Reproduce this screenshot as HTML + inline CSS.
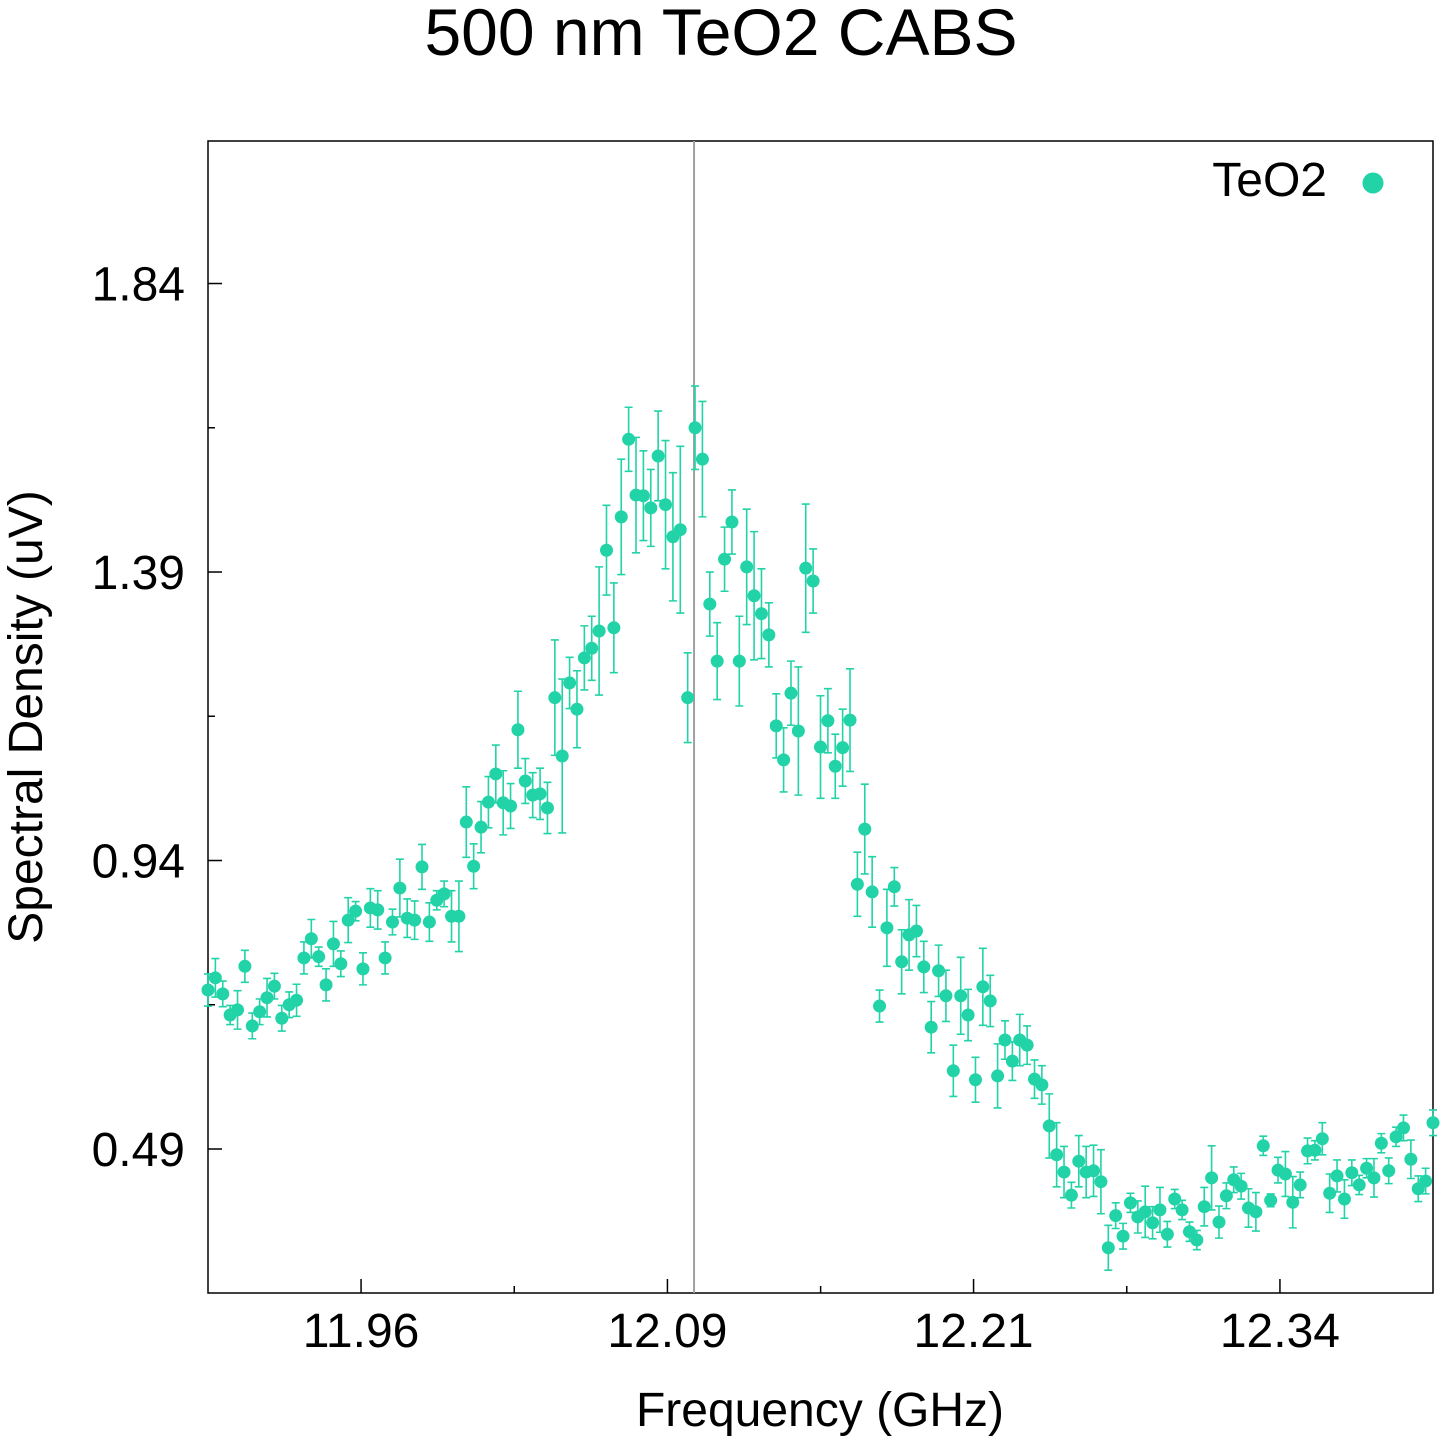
<!DOCTYPE html>
<html><head><meta charset="utf-8"><style>
html,body{margin:0;padding:0;background:#fff}
svg{display:block;font-family:"Liberation Sans",sans-serif}
</style></head><body>
<svg id="chart" width="1440" height="1440" viewBox="0 0 1440 1440" xmlns="http://www.w3.org/2000/svg">
<text x="721" y="55" font-size="66" text-anchor="middle">500 nm TeO2 CABS</text>
<g id="plot"></g>
<text x="820" y="1426" font-size="48" text-anchor="middle">Frequency (GHz)</text>
<text transform="translate(42,717) rotate(-90)" font-size="48" text-anchor="middle">Spectral Density (uV)</text>
<g>
<text x="1327" y="196" font-size="48" text-anchor="end">TeO2</text>
<circle cx="1373" cy="183" r="10.5" fill="#22d3a8"/>
</g>
</svg>
<script>
const values=[0.738,0.757,0.732,0.699,0.707,0.775,0.682,0.704,0.726,0.744,0.694,0.715,0.722,0.788,0.818,0.790,0.746,0.810,0.779,0.847,0.861,0.771,0.866,0.863,0.788,0.844,0.897,0.850,0.847,0.930,0.844,0.878,0.888,0.853,0.853,1.000,0.931,0.992,1.031,1.075,1.030,1.025,1.144,1.064,1.042,1.044,1.022,1.194,1.103,1.217,1.176,1.256,1.271,1.298,1.424,1.303,1.476,1.597,1.510,1.509,1.490,1.571,1.495,1.445,1.456,1.194,1.615,1.566,1.340,1.251,1.410,1.468,1.251,1.398,1.353,1.325,1.292,1.150,1.097,1.201,1.142,1.396,1.376,1.117,1.158,1.087,1.116,1.159,0.903,0.989,0.891,0.713,0.835,0.899,0.782,0.824,0.830,0.774,0.680,0.768,0.729,0.612,0.729,0.699,0.598,0.743,0.721,0.604,0.660,0.627,0.660,0.652,0.599,0.590,
0.526,0.481,0.454,0.418,0.471,0.454,0.456,0.439,0.336,0.386,0.354,0.406,0.384,0.392,0.375,0.395,0.357,0.412,0.395,0.361,0.348,0.400,0.445,0.376,0.417,0.442,0.432,0.398,0.392,0.495,0.410,0.457,0.451,0.407,0.434,0.487,0.488,0.506,0.421,0.448,0.412,0.453,0.434,0.460,0.445,0.499,0.456,0.509,0.523,0.474,0.428,0.440,0.531];
const errors=[0.025,0.03,0.02,0.015,0.03,0.025,0.02,0.02,0.03,0.02,0.02,0.02,0.025,0.025,0.03,0.015,0.025,0.035,0.02,0.035,0.015,0.025,0.03,0.03,0.025,0.02,0.045,0.03,0.03,0.035,0.03,0.015,0.02,0.04,0.055,
0.055,0.035,0.04,0.04,0.045,0.05,0.035,0.06,0.035,0.035,0.04,0.04,0.09,0.12,0.04,0.06,0.05,0.05,0.1,0.07,0.07,0.09,0.05,0.09,0.07,0.06,0.07,0.1,0.1,0.13,
0.07,0.065,0.09,0.05,0.06,0.05,0.05,0.07,0.09,0.1,0.07,0.05,0.05,0.05,0.05,0.1,0.1,0.05,0.08,0.05,0.05,0.06,0.08,
0.05,0.07,0.055,0.025,0.06,0.03,0.05,0.055,0.04,0.04,0.04,0.04,0.04,0.04,0.06,0.04,0.035,0.06,0.04,0.05,0.03,0.03,0.04,0.03,0.03,0.03,
0.05,0.05,0.04,0.02,0.04,0.04,0.04,0.05,0.035,0.02,0.02,0.015,0.025,0.04,0.025,0.035,0.02,0.015,0.015,0.015,0.015,0.03,0.05,0.025,0.02,0.02,0.02,0.03,0.03,0.015,0.01,0.02,0.035,0.04,0.02,0.02,0.015,0.025,0.03,0.025,0.03,0.02,0.015,0.015,0.03,0.015,0.02,0.015,0.02,0.03,0.02,0.02,0.02];
const freqStart=11.8967, freqEnd=12.4033;
const xTicks=[11.96,12.0867,12.2133,12.34];
const xTickLabels=["11.96","12.09","12.21","12.34"];
const yTicks=[0.49,0.94,1.39,1.84];
const yTickLabels=["0.49","0.94","1.39","1.84"];
const markerFreq=12.0977;

const L=208,R=1433,T=141,B=1293;
const xMin=11.8967,xMax=12.4033,yMin=0.2654,yMax=2.0623;
const X=f=>L+(f-xMin)/(xMax-xMin)*(R-L);
const Y=v=>B-(v-yMin)/(yMax-yMin)*(B-T);
const NS='http://www.w3.org/2000/svg';
const g=document.getElementById('plot');
function mk(t,a){const e=document.createElementNS(NS,t);for(const k in a)e.setAttribute(k,a[k]);g.appendChild(e);return e;}
let e;
e=mk('rect',{x:L,y:T,width:R-L,height:B-T,fill:'none',stroke:'#000','stroke-width':1.5});


const step=xTicks[1]-xTicks[0];
for(let k=-1;k<xTicks.length;k++){const f=xTicks[Math.max(k,0)]+(k<0?-step/2:step/2);const x=X(f);if(x>L&&x<R){
e=mk('line',{x1:x,y1:B,x2:x,y2:B-7,stroke:'#000','stroke-width':1.5});

}}
xTicks.forEach((f,i)=>{const x=X(f);
e=mk('line',{x1:x,y1:B,x2:x,y2:B-14,stroke:'#000','stroke-width':1.5});


e=mk('text',{x:x,y:1347,'font-size':48,'text-anchor':'middle'});e.textContent=xTickLabels[i];

});
const ystep=yTicks[1]-yTicks[0];
[yTicks[0]-ystep/2].concat(yTicks.map(v=>v+ystep/2)).forEach(v=>{const y=Y(v);if(y>T&&y<B){
e=mk('line',{x1:L,y1:y,x2:L+7,y2:y,stroke:'#000','stroke-width':1.5});

}});
yTicks.forEach((v,i)=>{const y=Y(v);
e=mk('line',{x1:L,y1:y,x2:L+14,y2:y,stroke:'#000','stroke-width':1.5});


e=mk('text',{x:185,y:y+17,'font-size':48,'text-anchor':'end'});e.textContent=yTickLabels[i];

});
e=mk('line',{x1:X(markerFreq),y1:T,x2:X(markerFreq),y2:B,stroke:'#a0a0a0','stroke-width':2});


const n=values.length;
values.forEach((v,i)=>{const f=freqStart+i*(freqEnd-freqStart)/(n-1);const x=X(f);const er=errors[i]!==undefined?errors[i]:0.03;
const y1=Y(v+er),y2=Y(v-er);
e=mk('path',{d:`M${x},${y1}V${y2}M${x-4},${y1}H${x+4}M${x-4},${y2}H${x+4}`,stroke:'#22d3a8','stroke-width':1.6,fill:'none'});


e=mk('circle',{cx:x,cy:Y(v),r:6.5,fill:'#22d3a8'});

});
</script>
</body></html>
